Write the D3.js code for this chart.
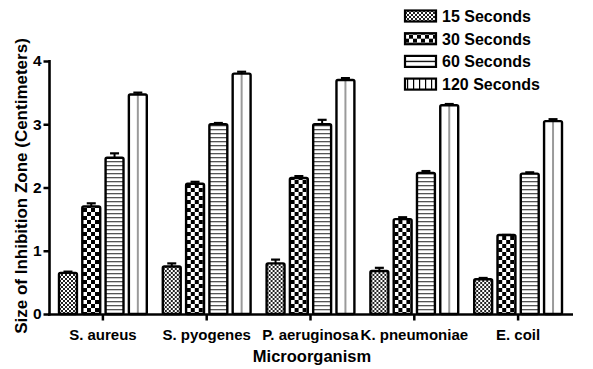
<!DOCTYPE html>
<html>
<head>
<meta charset="utf-8">
<script src="https://cdn.jsdelivr.net/npm/d3@7"></script>
<style>
  body { margin: 0; background: #fff; }
  text { font-family: "Liberation Sans", Arial, sans-serif; font-weight: bold; }
</style>
</head>
<body>
<div class="vis-bars"></div>
<script>
// data
const categories = ["S. aureus", "S. pyogenes", "P. aeruginosa", "K. pneumoniae", "E. coil"];
const seriesNames = ["15 Seconds", "30 Seconds", "60 Seconds", "120 Seconds"];
const val15 = [0.65, 0.75, 0.80, 0.68, 0.55];
const val30 = [1.70, 2.06, 2.15, 1.50, 1.25];
const val60 = [2.47, 3.00, 3.00, 2.23, 2.22];
const val120 = [3.47, 3.80, 3.70, 3.30, 3.05];
const err15 = [0.02, 0.05, 0.06, 0.05, 0.02];
const err30 = [0.05, 0.03, 0.03, 0.03, 0.00];
const err60 = [0.07, 0.02, 0.07, 0.03, 0.02];
const err120 = [0.03, 0.03, 0.03, 0.02, 0.03];
const yTicks = [0, 1, 2, 3, 4];

const values = [val15, val30, val60, val120];
const errors = [err15, err30, err60, err120];

const width = 593, height = 369;

const svg = d3.select('.vis-bars')
    .append('svg')
    .attr('width', width)
    .attr('height', height);

const defs = svg.append('defs');

// 15s - fine checker
let p = defs.append('pattern').attr('id', 'p0')
    .attr('patternUnits', 'userSpaceOnUse').attr('width', 4).attr('height', 4);
p.append('rect').attr('width', 4).attr('height', 4).attr('fill', '#fff');
p.append('rect').attr('width', 2).attr('height', 2).attr('fill', '#222');
p.append('rect').attr('x', 2).attr('y', 2).attr('width', 2).attr('height', 2).attr('fill', '#222');

// 30s - big checker
p = defs.append('pattern').attr('id', 'p1')
    .attr('patternUnits', 'userSpaceOnUse').attr('width', 8).attr('height', 8);
p.append('rect').attr('width', 8).attr('height', 8).attr('fill', '#fff');
p.append('rect').attr('width', 4).attr('height', 4).attr('fill', '#000');
p.append('rect').attr('x', 4).attr('y', 4).attr('width', 4).attr('height', 4).attr('fill', '#000');

// 60s - horizontal lines
p = defs.append('pattern').attr('id', 'p2')
    .attr('patternUnits', 'userSpaceOnUse').attr('width', 4).attr('height', 4);
p.append('rect').attr('width', 4).attr('height', 4).attr('fill', '#fff');
p.append('rect').attr('y', 1).attr('width', 4).attr('height', 1.3).attr('fill', '#555');

// 120s - one vertical line in the middle of each bar
p = defs.append('pattern').attr('id', 'p3')
    .attr('patternUnits', 'objectBoundingBox').attr('width', 1).attr('height', 1)
    .attr('patternContentUnits', 'objectBoundingBox');
p.append('rect').attr('width', 1).attr('height', 1).attr('fill', '#fff');
p.append('rect').attr('x', 0.47).attr('width', 0.06).attr('height', 1).attr('fill', '#444');

// legend versions
p = defs.append('pattern').attr('id', 'l2')
    .attr('patternUnits', 'objectBoundingBox').attr('width', 1).attr('height', 1)
    .attr('patternContentUnits', 'objectBoundingBox');
p.append('rect').attr('width', 1).attr('height', 1).attr('fill', '#fff');
p.append('rect').attr('y', 0.44).attr('width', 1).attr('height', 0.12).attr('fill', '#000');

p = defs.append('pattern').attr('id', 'l3')
    .attr('patternUnits', 'userSpaceOnUse').attr('width', 6).attr('height', 6);
p.append('rect').attr('width', 6).attr('height', 6).attr('fill', '#fff');
p.append('rect').attr('x', 2).attr('width', 1.2).attr('height', 6).attr('fill', '#000');

const fills = ['url(#p0)', 'url(#p1)', 'url(#p2)', 'url(#p3)'];
const legendFills = ['url(#p0)', 'url(#p1)', 'url(#l2)', 'url(#l3)'];

const x0 = d3.scaleBand()
    .domain(categories)
    .range([51, 570]);

const x1 = d3.scaleBand()
    .domain(seriesNames)
    .range([8, x0.bandwidth() - 8])
    .paddingInner(0.23);

const y = d3.scaleLinear()
    .domain([0, 4])
    .range([314, 61]);

// bars
const groups = svg.selectAll('g.group')
    .data(categories)
    .enter()
    .append('g').attr('class', 'group')
    .attr('transform', d => 'translate(' + x0(d) + ',0)');

seriesNames.forEach((s, si) => {
    const bars = groups.append('g');

    bars.append('line')
        .attr('x1', x1(s) + x1.bandwidth() / 2)
        .attr('x2', x1(s) + x1.bandwidth() / 2)
        .attr('y1', (d, i) => y(values[si][i]))
        .attr('y2', (d, i) => y(values[si][i] + errors[si][i]))
        .style('stroke', '#000')
        .style('stroke-width', 2);

    bars.append('line')
        .attr('x1', x1(s) + x1.bandwidth() / 2 - 4.5)
        .attr('x2', x1(s) + x1.bandwidth() / 2 + 4.5)
        .attr('y1', (d, i) => y(values[si][i] + errors[si][i]))
        .attr('y2', (d, i) => y(values[si][i] + errors[si][i]))
        .style('stroke', '#000')
        .style('stroke-width', 2.2);

    bars.append('rect')
        .attr('x', x1(s))
        .attr('width', x1.bandwidth())
        .attr('y', (d, i) => y(values[si][i]))
        .attr('height', (d, i) => y(0) - y(values[si][i]))
        .attr('rx', 1.5)
        .style('fill', fills[si])
        .style('stroke', '#000')
        .style('stroke-width', 2.4);
});

// axes
const yAxis = svg.append('g')
    .attr('transform', 'translate(49.5,0)')
    .call(d3.axisLeft(y).tickValues(yTicks).tickFormat(d3.format('d')).tickSize(6).tickPadding(2));

const xAxis = svg.append('g')
    .attr('transform', 'translate(0,314.5)')
    .call(d3.axisBottom(x0).tickSize(6).tickPadding(9));

[yAxis, xAxis].forEach(a => {
    a.select('.domain').remove();
    a.selectAll('line').style('stroke', '#000').style('stroke-width', 2.5);
    a.selectAll('text').style('font-size', '15.5px').style('fill', '#000');
});
xAxis.selectAll('text').style('font-size', '15px');

svg.append('line')
    .attr('x1', 49.5).attr('x2', 49.5)
    .attr('y1', 60).attr('y2', 315.5)
    .style('stroke', '#000').style('stroke-width', 2.6);

svg.append('line')
    .attr('x1', 48).attr('x2', 573)
    .attr('y1', 314.5).attr('y2', 314.5)
    .style('stroke', '#000').style('stroke-width', 2.6);

// titles
svg.append('text')
    .attr('transform', 'translate(27,186) rotate(-90)')
    .attr('text-anchor', 'middle')
    .style('font-size', '17px')
    .text('Size of Inhibition Zone (Centimeters)');

svg.append('text')
    .attr('x', 312).attr('y', 362)
    .attr('text-anchor', 'middle')
    .style('font-size', '16.5px')
    .text('Microorganism');

// legend
const legend = svg.selectAll('g.legend')
    .data(seriesNames)
    .enter()
    .append('g').attr('class', 'legend')
    .attr('transform', (d, i) => 'translate(405,' + (16 + i * 22.7) + ')');

legend.append('rect')
    .attr('x', 0).attr('y', -5.5)
    .attr('width', 31).attr('height', 11)
    .style('fill', (d, i) => legendFills[i])
    .style('stroke', '#000')
    .style('stroke-width', 2.2);

legend.append('text')
    .attr('x', 37).attr('y', 6)
    .style('font-size', '16px')
    .text(d => d);
</script>
</body>
</html>
